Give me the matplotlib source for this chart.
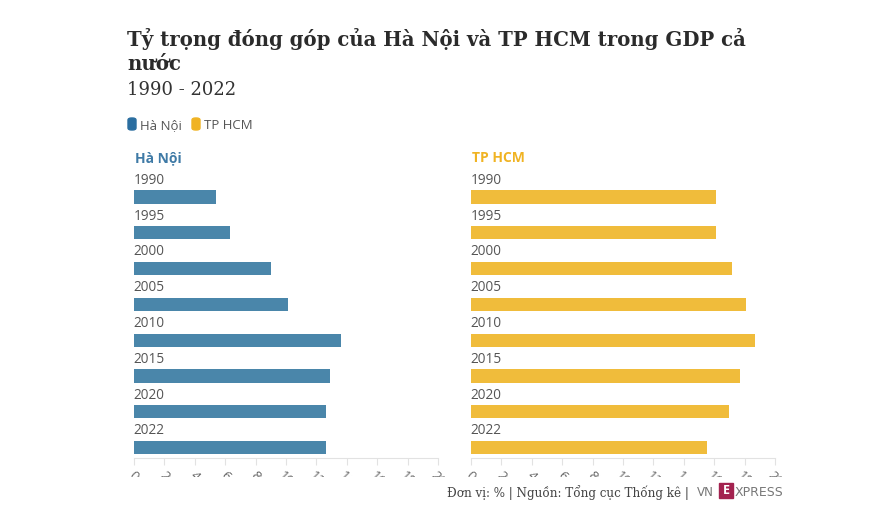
import matplotlib
matplotlib.use("Agg")
import matplotlib.pyplot as plt
from matplotlib.patches import FancyBboxPatch, Rectangle
from matplotlib.transforms import Bbox, blended_transform_factory

# Du lieu: ty trong dong gop vao GDP ca nuoc (%)
years = ["1990", "1995", "2000", "2005", "2010", "2015", "2020", "2022"]
hanoi = [5.4, 6.3, 9.0, 10.1, 13.6, 12.9, 12.6, 12.6]
hcm = [16.1, 16.1, 17.2, 18.1, 18.7, 17.7, 17.0, 15.5]
x_ticks = [0, 2, 4, 6, 8, 10, 12, 14, 16, 18, 20]

W, H = 869, 523
BLUE_BAR = "#4a86aa"
YELLOW_BAR = "#f0bc3b"
SANS = "Open Sans"
SERIF = "DejaVu Serif"

fig = plt.figure(figsize=(W / 100, H / 100), dpi=100)
fig.patch.set_facecolor("white")


def fy(py):
    """pixel y (tu tren xuong) -> toa do figure"""
    return 1 - py / H


def fx(px):
    return px / W


# Tieu de
fig.text(fx(127), fy(46), "Tỷ trọng đóng góp của Hà Nội và TP HCM trong GDP cả",
         family=SERIF, fontsize=14.2, weight="bold", color="#2b2b2b")
fig.text(fx(127), fy(70), "nước", family=SERIF, fontsize=14.2, weight="bold",
         color="#2b2b2b")
fig.text(fx(127), fy(95), "1990 - 2022", family=SERIF, fontsize=13,
         color="#333333")

# Chu giai
fig.patches.append(FancyBboxPatch((fx(128), fy(130)), fx(8), 12 / H,
                                  boxstyle="round,pad=0,rounding_size=0.004",
                                  transform=fig.transFigure, color="#2b6ea0"))
fig.text(fx(140), fy(129), "Hà Nội", family=SANS, fontsize=9.5, color="#555555")
fig.patches.append(FancyBboxPatch((fx(192), fy(130)), fx(8), 12 / H,
                                  boxstyle="round,pad=0,rounding_size=0.004",
                                  transform=fig.transFigure, color="#f0b323"))
fig.text(fx(204), fy(129), "TP HCM", family=SANS, fontsize=9.5, color="#555555")

panels = [
    (134, hanoi, BLUE_BAR, "Hà Nội", "#3f7aa6"),
    (471, hcm, YELLOW_BAR, "TP HCM", "#f0b323"),
]

n = len(years)
pos = list(range(n))
ax_bottom_px, ax_top_px = 458, 173.7
for left_px, vals, color, title, tcolor in panels:
    ax = fig.add_axes([fx(left_px), fy(ax_bottom_px), fx(304),
                       (ax_bottom_px - ax_top_px) / H])
    ax.barh(pos, vals, height=0.37, color=color, edgecolor="none")
    ax.set_xlim(0, 20)
    ax.set_ylim(n - 1 + 0.29, -0.65)
    ax.set_yticks([])
    ax.set_xticks(x_ticks)
    ax.set_xticklabels([])
    ax.tick_params(axis="x", length=5, width=0.8, color="#e2e2e2")
    for s in ["top", "right", "left"]:
        ax.spines[s].set_visible(False)
    ax.spines["bottom"].set_color("#e2e2e2")
    ax.spines["bottom"].set_linewidth(0.8)
    ax.set_facecolor("none")

    for i, y in enumerate(years):
        ax.text(-0.05, i - 0.255, y, family=SANS, fontsize=9.8, color="#555555",
                va="bottom", ha="left")

    fig.text(fx(left_px + 1), fy(162), title, family=SANS, fontsize=10,
             weight="bold", color=tcolor)

    # nhan truc x bi cat mat nhu ban goc
    clip = Bbox.from_extents(left_px - 20, H - 477, left_px + 330, H - 469)
    tr = blended_transform_factory(ax.transData, fig.transFigure)
    for t in x_ticks:
        lab = fig.text(t, fy(469), str(t), transform=tr, family=SANS,
                       fontsize=9.5, color="#666666", rotation=-45,
                       ha="center", va="top")
        lab.set_clip_box(clip)
        lab.set_clip_on(True)

# Chu thich nguon
fig.text(fx(447), fy(497), "Đơn vị: % | Nguồn: Tổng cục Thống kê |",
         family=SERIF, fontsize=8.6, color="#444444")
fig.text(fx(697), fy(496), "VN", family="DejaVu Sans", fontsize=8.6,
         color="#777777")
fig.patches.append(Rectangle((fx(719), fy(498)), fx(14), 15 / H,
                             transform=fig.transFigure, color="#a3224f"))
fig.text(fx(726), fy(490.5), "E", family=SANS, fontsize=9, weight="bold",
         color="white", ha="center", va="center")
fig.text(fx(735), fy(496), "XPRESS", family="DejaVu Sans", fontsize=9,
         color="#777777")

fig.savefig("out.png", dpi=100, facecolor="white")
